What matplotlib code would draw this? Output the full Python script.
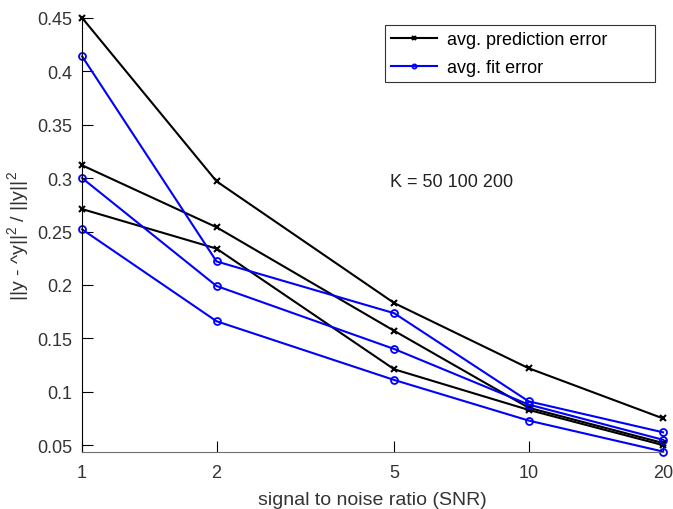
import numpy as np
import matplotlib
matplotlib.use('Agg')
import matplotlib.pyplot as plt
from matplotlib.ticker import FixedLocator, NullLocator

plt.rcParams['font.family'] = ['Liberation Sans', 'DejaVu Sans']
plt.rcParams['mathtext.fontset'] = 'custom'
plt.rcParams['mathtext.rm'] = 'Liberation Sans'

snr = [1, 2, 5, 10, 20]

# avg. prediction error, K = 50, 100, 200
pred_k50 = [0.450, 0.297, 0.183, 0.122, 0.075]
pred_k100 = [0.312, 0.254, 0.157, 0.085, 0.052]
pred_k200 = [0.271, 0.234, 0.121, 0.083, 0.050]

# avg. fit error, K = 50, 100, 200
fit_k50 = [0.414, 0.222, 0.1735, 0.091, 0.062]
fit_k100 = [0.300, 0.199, 0.140, 0.088, 0.055]
fit_k200 = [0.252, 0.166, 0.111, 0.073, 0.044]

yticks = [0.05, 0.1, 0.15, 0.2, 0.25, 0.3, 0.35, 0.4, 0.45]
ytick_labels = ['0.05', '0.1', '0.15', '0.2', '0.25', '0.3', '0.35', '0.4', '0.45']

fig = plt.figure(figsize=(6.73, 5.10), dpi=100)
ax = fig.add_axes([0.122, 0.112, 0.8633, 0.851])

first = True
for p in [pred_k50, pred_k100, pred_k200]:
    ax.plot(snr, p, color='black', lw=1.5, marker='x', ms=5, mew=1.5,
            label='avg. prediction error' if first else None, clip_on=False)
    first = False
first = True
for f in [fit_k50, fit_k100, fit_k200]:
    ax.plot(snr, f, color='#0000ff', lw=1.5, marker='o', ms=5, mew=1.3,
            mfc='none', label='avg. fit error' if first else None, clip_on=False)
    first = False

ax.set_xscale('log')
ax.set_xlim(1, 20)
ax.set_ylim(0.0437, 0.45)
ax.xaxis.set_major_locator(FixedLocator(snr))
ax.xaxis.set_minor_locator(NullLocator())
ax.set_xticklabels([str(s) for s in snr])
ax.set_yticks(yticks)
ax.set_yticklabels(ytick_labels)
ax.tick_params(direction='in', length=8, width=0.8, labelsize=13, colors='black',
               labelcolor='#333333')
ax.tick_params(axis='x', pad=9)
ax.tick_params(axis='y', pad=7)

for s in ['top', 'right']:
    ax.spines[s].set_visible(False)
ax.spines['left'].set_color('black')
ax.spines['bottom'].set_color('#707070')

ax.set_xlabel('signal to noise ratio (SNR)', fontsize=14, color='#333333', labelpad=7)
ax.set_ylabel(r'||y - ^y||$^2$ / ||y||$^2$', fontsize=14, color='#333333', labelpad=4)

ax.text(4.9, 0.2965, 'K = 50 100 200', fontsize=13, va='center', color='#222222')

leg = ax.legend(loc='upper left', bbox_to_anchor=(0.5215, 0.8525, 0.4645, 0.1315),
                mode='expand', fontsize=13,
                fancybox=False, framealpha=1, edgecolor='#333333',
                handlelength=2.5, handletextpad=0.6, markerscale=0.6,
                borderpad=0.35, borderaxespad=0, labelspacing=0.6)
leg.get_frame().set_linewidth(0.8)

fig.savefig('out.png', dpi=100)
